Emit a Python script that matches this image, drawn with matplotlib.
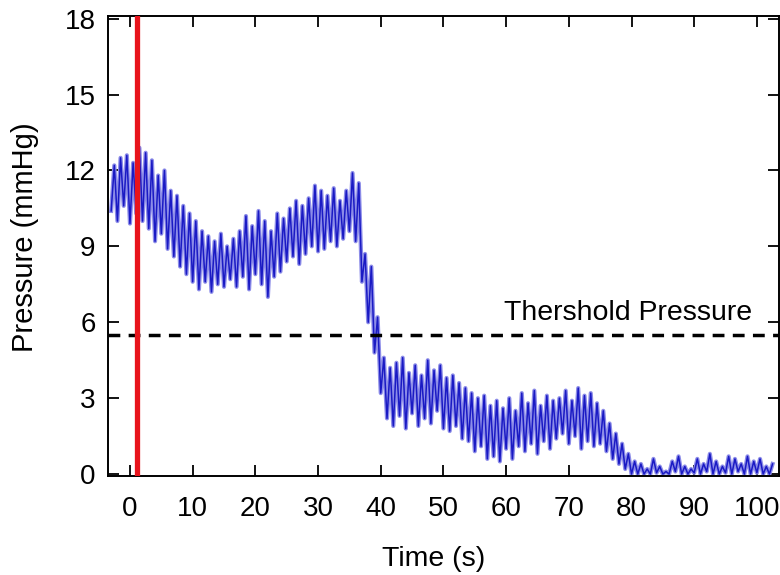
import numpy as np
import matplotlib
matplotlib.use("Agg")
import matplotlib.pyplot as plt

plt.rcParams["font.family"] = ["Liberation Sans", "DejaVu Sans"]

# one beat per second, from t=-3 s to t=102 s
t_start, t_end = -3, 102
# beat peak (systolic) pressure, mmHg
upper = [
    12.2, 12.5, 12.6, 12.3, 12.9, 12.7, 12.4, 11.8, 12.0, 11.2,   # -3 .. 6
    11.0, 10.6, 10.3, 10.0, 9.6, 9.4, 9.2, 9.5, 9.0, 9.3,         # 7 .. 16
    9.6, 10.2, 9.8, 10.4, 10.0, 9.6, 10.3, 10.1, 10.5, 10.8,      # 17 .. 26
    10.6, 10.9, 11.4, 11.2, 11.0, 11.3, 10.8, 11.2, 11.9, 11.5,   # 27 .. 36
    8.7, 8.2, 6.2, 4.6, 4.2, 4.4, 4.6, 4.0, 4.3, 3.9,             # 37 .. 46
    4.5, 4.1, 4.3, 3.8, 3.9, 3.6, 3.4, 3.2, 3.0, 3.1,             # 47 .. 56
    2.7, 2.9, 2.6, 3.0, 2.5, 3.2, 2.8, 3.3, 2.7, 3.1,             # 57 .. 66
    2.9, 3.0, 3.3, 2.9, 3.4, 3.1, 3.2, 2.8, 2.5, 2.0,             # 67 .. 76
    1.6, 1.2, 0.8, 0.5, 0.4, 0.2, 0.6, 0.3, 0.1, 0.5,             # 77 .. 86
    0.7, 0.3, 0.2, 0.6, 0.4, 0.8, 0.5, 0.3, 0.7, 0.6,             # 87 .. 96
    0.4, 0.7, 0.5, 0.6, 0.3, 0.4,                                 # 97 .. 102
]
# beat trough pressure, mmHg
lower = [
    10.4, 10.0, 10.6, 9.9, 10.3, 10.0, 9.7, 9.2, 9.5, 8.9,
    8.6, 8.2, 7.9, 7.6, 7.3, 7.6, 7.2, 7.5, 7.4, 7.7,
    7.4, 7.8, 7.3, 7.9, 7.5, 7.0, 7.8, 8.0, 8.4, 8.6,
    8.3, 8.7, 9.0, 8.8, 8.9, 9.2, 9.0, 9.3, 9.6, 9.2,
    7.6, 6.0, 4.8, 3.2, 2.2, 1.9, 2.3, 1.8, 2.4, 1.9,
    2.2, 2.0, 2.5, 1.8, 1.7, 1.9, 1.4, 1.3, 0.9, 1.1,
    0.6, 0.7, 0.5, 1.0, 0.6, 1.1, 0.9, 1.2, 0.8, 1.3,
    1.0, 1.4, 1.6, 1.2, 1.5, 1.0, 1.3, 1.1, 1.2, 0.9,
    0.6, 0.4, 0.2, 0.0, 0.0, 0.0, 0.0, 0.05, 0.0, 0.0,
    0.1, 0.0, 0.0, 0.05, 0.0, 0.1, 0.0, 0.0, 0.05, 0.0,
    0.1, 0.0, 0.0, 0.05, 0.0, 0.0,
]
threshold = 5.5
event_time = 1.1
x_ticks = [0, 10, 20, 30, 40, 50, 60, 70, 80, 90, 100]
y_ticks = [0, 3, 6, 9, 12, 15, 18]

beats = np.arange(t_start, t_end + 1)
assert len(beats) == len(upper) == len(lower)

# zigzag trace: trough then peak for every beat
tt = np.column_stack([beats, beats + 0.5]).ravel()
pp = np.column_stack([lower, upper]).ravel()

fig = plt.figure(figsize=(7.8, 5.75), dpi=100)
ax = fig.add_axes([0.1385, 0.172, 0.86, 0.80])

ax.plot(tt, pp, color="#8c8ce8", lw=3.0)
ax.plot(tt, pp, color="#1a1ac4", lw=1.1)
ax.axvline(event_time, color="#e8141c", lw=3.8, zorder=3)
ax.axhline(threshold, color="black", lw=2.5, ls=(0, (3.4, 2.4)))
ax.text(59.6, threshold + 0.85, "Thershold Pressure", fontsize=20.5,
        ha="left", va="center")

ax.set_xlim(-3.5, 103.5)
ax.set_ylim(-0.08, 18.1)
ax.set_xticks(x_ticks)
ax.set_yticks(y_ticks)
ax.tick_params(direction="in", length=8, width=1.3, top=True, right=True,
               labelsize=20)
ax.tick_params(axis="x", pad=14)
ax.tick_params(axis="y", pad=9)
for s in ax.spines.values():
    s.set_linewidth(1.4)

ax.set_xlabel("Time (s)", fontsize=20.5, va="center")
ax.xaxis.set_label_coords(0.485, -0.18)
ax.set_ylabel("Pressure (mmHg)", fontsize=21, va="center")
ax.yaxis.set_label_coords(-0.124, 0.52)

plt.savefig("out.png", dpi=100)
plt.close()
